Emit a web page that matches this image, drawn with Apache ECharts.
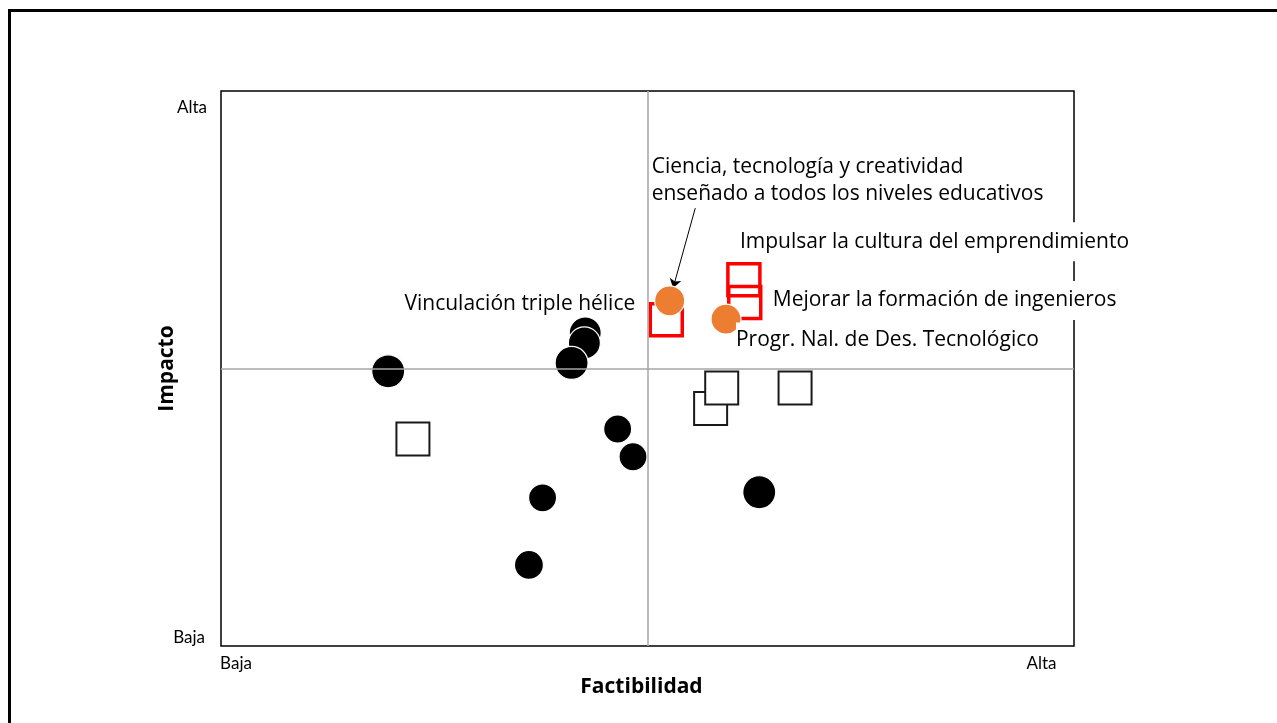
<!DOCTYPE html>
<html>
<head>
<meta charset="utf-8">
<script src="https://cdn.jsdelivr.net/npm/echarts@6/dist/echarts.min.js"></script>
<style>
  html, body { margin: 0; padding: 0; background: #fff; }
  #chart { position: absolute; left: 0; top: 0; width: 1277px; height: 723px; }
  #frame { position: absolute; left: 7.5px; top: 9px; width: 1280px; height: 720px;
           border-left: 3px solid #000; border-top: 3px solid #000; pointer-events: none; }
</style>
</head>
<body>
<div id="chart"></div>
<div id="frame"></div>
<script>
// scale 0..10 on both axes, quadrant split at 5
const xTickLabels = ['Baja', 'Alta'];
const yTickLabels = ['Baja', 'Alta'];

// black dots
const blackX = [1.96, 4.27, 4.26, 4.11, 4.65, 4.83, 3.77, 3.61, 6.31];
const blackY = [4.95, 5.64, 5.46, 5.10, 3.91, 3.41, 2.67, 1.46, 2.77];
const blackSize = [33, 32, 32, 33, 28, 28, 28, 29, 33];

// empty squares
const squareX = [2.25, 5.74, 5.87, 6.73];
const squareY = [3.73, 4.28, 4.65, 4.65];

// red squares
const redNames = ['Vinculación triple hélice', 'Impulsar la cultura del emprendimiento', 'Mejorar la formación de ingenieros'];
const redX = [5.22, 6.13, 6.14];
const redY = [5.88, 6.60, 6.19];

// orange dots
const orangeNames = ['Ciencia, tecnología y creatividad\nenseñado a todos los niveles educativos', 'Progr. Nal. de Des. Tecnológico'];
const orangeX = [5.26, 5.92];
const orangeY = [6.22, 5.89];

// arrow from the long label to its dot
const arrowFrom = [5.56, 7.89];
const arrowTo = [5.30, 6.45];

const FONT = 'Open Sans';
const TICK_FONT = 'Lato';
const chart = echarts.init(document.getElementById('chart'));

const labelBase = {
  show: true,
  position: 'inside',
  color: '#000',
  fontFamily: FONT,
  fontSize: 21,
  backgroundColor: '#fff',
  padding: [2, 4],
};

const redLabels = [
  { align: 'right', offset: [-27, -16] },
  { align: 'left', offset: [-8, -38], padding: [9, 4] },
  { align: 'left', offset: [24, -2], padding: [9, 4] },
];
const orangeLabels = [
  { align: 'left', offset: [-18, -120], lineHeight: 27, backgroundColor: 'transparent', padding: 0 },
  { align: 'left', offset: [10, 21], padding: [2, 0, 12, 0] },
];

chart.setOption({
  animation: false,
  grid: {
    left: 221, right: 203, top: 91, bottom: 77,
    show: true, borderColor: '#000', borderWidth: 1.5,
  },
  xAxis: {
    type: 'value', min: 0, max: 10, interval: 10,
    name: 'Factibilidad', nameLocation: 'middle', nameGap: 29,
    nameTextStyle: { fontFamily: FONT, fontSize: 21, fontWeight: 'bold', color: '#000', padding: [0, 12, 0, 0] },
    axisLine: { show: false }, axisTick: { show: false }, splitLine: { show: false },
    axisLabel: {
      margin: 9,
      formatter: (v) => (v === 0 ? '{l|' + xTickLabels[0] + '}' : '{r|' + xTickLabels[1] + '}'),
      rich: {
        l: { fontFamily: TICK_FONT, fontSize: 17, color: '#000', padding: [0, 0, 0, 30] },
        r: { fontFamily: TICK_FONT, fontSize: 17, color: '#000', padding: [0, 65, 0, 0] },
      },
    },
  },
  yAxis: {
    type: 'value', min: 0, max: 10, interval: 10,
    name: 'Impacto', nameLocation: 'middle', nameGap: 43, nameRotate: 90,
    nameMoveOverlap: false,
    nameTextStyle: { fontFamily: FONT, fontSize: 21, fontWeight: 'bold', color: '#000' },
    axisLine: { show: false }, axisTick: { show: false }, splitLine: { show: false },
    axisLabel: {
      margin: 14,
      formatter: (v) => (v === 0 ? '{b|' + yTickLabels[0] + '}' : '{t|' + yTickLabels[1] + '}'),
      rich: {
        t: { fontFamily: TICK_FONT, fontSize: 17, color: '#000', padding: [34, 0, 0, 0] },
        b: { fontFamily: TICK_FONT, fontSize: 17, color: '#000', padding: [0, 2, 16, 0] },
      },
    },
  },
  series: [
    {
      type: 'scatter', data: [], z: 1, silent: true,
      markLine: {
        silent: true, symbol: ['none', 'none'], label: { show: false },
        lineStyle: { color: '#a6a6a6', width: 1.5, type: 'solid' },
        data: [{ xAxis: 5 }, { yAxis: 5 }],
      },
    },
    {
      type: 'scatter', data: [], z: 1, silent: true,
      markLine: {
        silent: true, symbol: ['none', 'arrow'], symbolSize: 9, label: { show: false },
        lineStyle: { color: '#000', width: 1, type: 'solid' },
        data: [[{ coord: arrowFrom }, { coord: arrowTo }]],
      },
    },
    {
      type: 'scatter', z: 2,
      symbol: 'rect', symbolSize: 33,
      itemStyle: { color: '#fff', borderColor: '#1a1a1a', borderWidth: 2, opacity: 1 },
      data: squareX.map((x, i) => [x, squareY[i]]),
    },
    {
      type: 'scatter', z: 3,
      symbol: 'circle',
      itemStyle: { color: '#000', borderColor: '#fff', borderWidth: 1.2, opacity: 1 },
      data: blackX.map((x, i) => ({ value: [x, blackY[i]], symbolSize: blackSize[i] })),
    },
    {
      type: 'scatter', z: 4,
      symbol: 'rect', symbolSize: 32,
      itemStyle: { color: 'rgba(255,255,255,0)', borderColor: '#ff0000', borderWidth: 3.5, opacity: 1 },
      data: redX.map((x, i) => ({
        name: redNames[i], value: [x, redY[i]],
        label: Object.assign({}, labelBase, { formatter: '{b}' }, redLabels[i]),
      })),
    },
    {
      type: 'scatter', z: 5,
      symbol: 'circle', symbolSize: 30,
      itemStyle: { color: '#ed7d31', borderColor: '#fff', borderWidth: 1.2, opacity: 1 },
      data: orangeX.map((x, i) => ({
        name: orangeNames[i], value: [x, orangeY[i]],
        label: Object.assign({}, labelBase, { formatter: '{b}' }, orangeLabels[i]),
      })),
    },
  ],
});

window.addEventListener('resize', () => chart.resize());
</script>
</body>
</html>
